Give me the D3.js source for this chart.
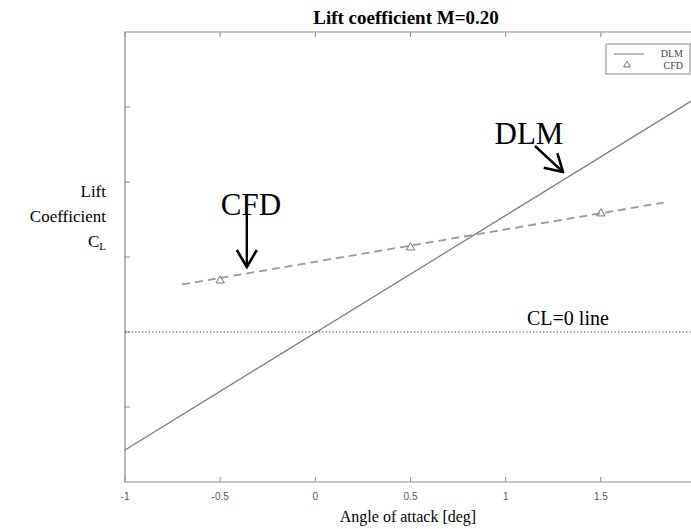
<!DOCTYPE html>
<html lang="en">
<head>
<meta charset="utf-8">
<title>Lift coefficient M=0.20</title>
<script src="https://cdn.jsdelivr.net/npm/d3@7"></script>
<style>
  body { margin: 0; background: #fff; }
  text { font-family: "Liberation Serif", "Times New Roman", serif; }
</style>
</head>
<body>
<script>
// chart data (CL per tick = 0.05, ticks unlabeled in the original)
var xTicks = [-1, -0.5, 0, 0.5, 1, 1.5, 2];
var yTicks = [-0.05, 0, 0.05, 0.1, 0.15];

var dlmAlpha = [-1, 2];
var dlmCL = [-0.0787, 0.1559];

var cfdAlpha = [-0.5, 0.5, 1.5];
var cfdCL = [0.0343, 0.0563, 0.0790];

// dashed fit through the CFD points
var cfdFitAlpha = [-0.7, 1.83];
var cfdFitCL = [0.0317, 0.0863];

var width = 691, height = 529;
var margin = {top: 32, right: -5, bottom: 47, left: 125};

var svg = d3.select("body").append("svg")
    .attr("width", width)
    .attr("height", height);

var x = d3.scaleLinear().domain([-1, 2]).range([margin.left, width - margin.right]);
var y = d3.scaleLinear().domain([-0.1, 0.2]).range([height - margin.bottom, margin.top]);

var axisCol = "#8a8a8a";

// title
svg.append("text")
    .attr("x", 406).attr("y", 24)
    .attr("text-anchor", "middle")
    .style("font-size", "19px").style("font-weight", "bold")
    .text("Lift coefficient M=0.20");

// frame (right side runs off the picture)
svg.append("path")
    .attr("d", "M" + x(2.1) + "," + y(0.2) + "H" + x(-1) + "V" + y(-0.1) + "H" + x(2.1))
    .attr("fill", "none").attr("stroke", axisCol).attr("stroke-width", 1.2);

// bottom / top ticks pointing inward
xTicks.forEach(function (t) {
    svg.append("line")
        .attr("x1", x(t)).attr("x2", x(t))
        .attr("y1", y(-0.1)).attr("y2", y(-0.1) - 5)
        .attr("stroke", axisCol);
    svg.append("line")
        .attr("x1", x(t)).attr("x2", x(t))
        .attr("y1", y(0.2)).attr("y2", y(0.2) + 5)
        .attr("stroke", axisCol);
});
yTicks.forEach(function (t) {
    svg.append("line")
        .attr("x1", x(-1)).attr("x2", x(-1) + 5)
        .attr("y1", y(t)).attr("y2", y(t))
        .attr("stroke", axisCol);
});

// tick labels
svg.selectAll(".xlab").data(xTicks.slice(0, 6)).enter().append("text")
    .attr("x", function (d) { return x(d); })
    .attr("y", y(-0.1) + 18)
    .attr("text-anchor", "middle")
    .style("font-family", "'Liberation Sans', Arial, sans-serif")
    .style("font-size", "10px")
    .attr("fill", "#555")
    .text(function (d) { return d; });

// axis labels
svg.append("text")
    .attr("x", 408).attr("y", 522)
    .attr("text-anchor", "middle")
    .style("font-size", "16px")
    .text("Angle of attack [deg]");

var yl = svg.append("text")
    .attr("text-anchor", "end")
    .style("font-size", "17px");
yl.append("tspan").attr("x", 106).attr("y", 197).text("Lift");
yl.append("tspan").attr("x", 106).attr("y", 222).text("Coefficient");
var cl = svg.append("text").attr("x", 106).attr("y", 247)
    .attr("text-anchor", "end").style("font-size", "17px");
cl.append("tspan").text("C");
cl.append("tspan").attr("dy", 3).style("font-size", "11px").text("L");

// CL = 0 line
svg.append("line")
    .attr("x1", x(-1)).attr("x2", width)
    .attr("y1", y(0)).attr("y2", y(0))
    .attr("stroke", "#333").attr("stroke-width", 1)
    .attr("stroke-dasharray", "1.2,2.2");
svg.append("text")
    .attr("x", 527).attr("y", y(0) - 7)
    .style("font-size", "20px")
    .text("CL=0 line");

var line = d3.line()
    .x(function (d) { return x(d[0]); })
    .y(function (d) { return y(d[1]); });

// DLM line
svg.append("path")
    .datum(d3.zip(dlmAlpha, dlmCL))
    .attr("d", line)
    .attr("fill", "none").attr("stroke", "#777").attr("stroke-width", 1.2);

// CFD fit
svg.append("path")
    .datum(d3.zip(cfdFitAlpha, cfdFitCL))
    .attr("d", line)
    .attr("fill", "none").attr("stroke", "#999").attr("stroke-width", 1.8)
    .attr("stroke-dasharray", "8,5");

var tri = d3.symbol().type(d3.symbolTriangle).size(30);
svg.selectAll(".cfd").data(d3.zip(cfdAlpha, cfdCL)).enter().append("path")
    .attr("d", tri)
    .attr("transform", function (d) { return "translate(" + x(d[0]) + "," + y(d[1]) + ")"; })
    .attr("fill", "none").attr("stroke", "#777").attr("stroke-width", 1);

// annotations with open arrow heads
svg.append("defs").append("marker")
    .attr("id", "head").attr("viewBox", "0 0 20 24")
    .attr("markerUnits", "userSpaceOnUse")
    .attr("refX", 18).attr("refY", 12)
    .attr("markerWidth", 20).attr("markerHeight", 24)
    .attr("orient", "auto")
    .append("path").attr("d", "M1,2 L18,12 L1,22").attr("fill", "none")
    .attr("stroke", "#000").attr("stroke-width", 2.6);

svg.append("text")
    .attr("x", 251).attr("y", 215)
    .attr("text-anchor", "middle")
    .style("font-size", "31px")
    .text("CFD");
svg.append("line")
    .attr("x1", x(-0.36)).attr("y1", 215)
    .attr("x2", x(-0.36)).attr("y2", 267)
    .attr("stroke", "#000").attr("stroke-width", 2.4)
    .attr("marker-end", "url(#head)");

svg.append("text")
    .attr("x", 529).attr("y", 144)
    .attr("text-anchor", "middle")
    .style("font-size", "31px")
    .text("DLM");
svg.append("line")
    .attr("x1", 535).attr("y1", 146)
    .attr("x2", 563).attr("y2", 172)
    .attr("stroke", "#000").attr("stroke-width", 2.4)
    .attr("marker-end", "url(#head)");

// legend
var lg = svg.append("g").attr("transform", "translate(606,44)");
lg.append("rect").attr("width", 84).attr("height", 30)
    .attr("fill", "#fff").attr("stroke", "#888").attr("stroke-width", 1);
lg.append("line").attr("x1", 8).attr("x2", 38).attr("y1", 10).attr("y2", 10)
    .attr("stroke", "#777");
lg.append("path").attr("d", d3.symbol().type(d3.symbolTriangle).size(20))
    .attr("transform", "translate(21,21)")
    .attr("fill", "none").attr("stroke", "#777");
lg.append("text").attr("x", 77).attr("y", 13).attr("text-anchor", "end")
    .style("font-size", "10px").attr("fill", "#444").text("DLM");
lg.append("text").attr("x", 77).attr("y", 25).attr("text-anchor", "end")
    .style("font-size", "10px").attr("fill", "#444").text("CFD");
</script>
</body>
</html>
